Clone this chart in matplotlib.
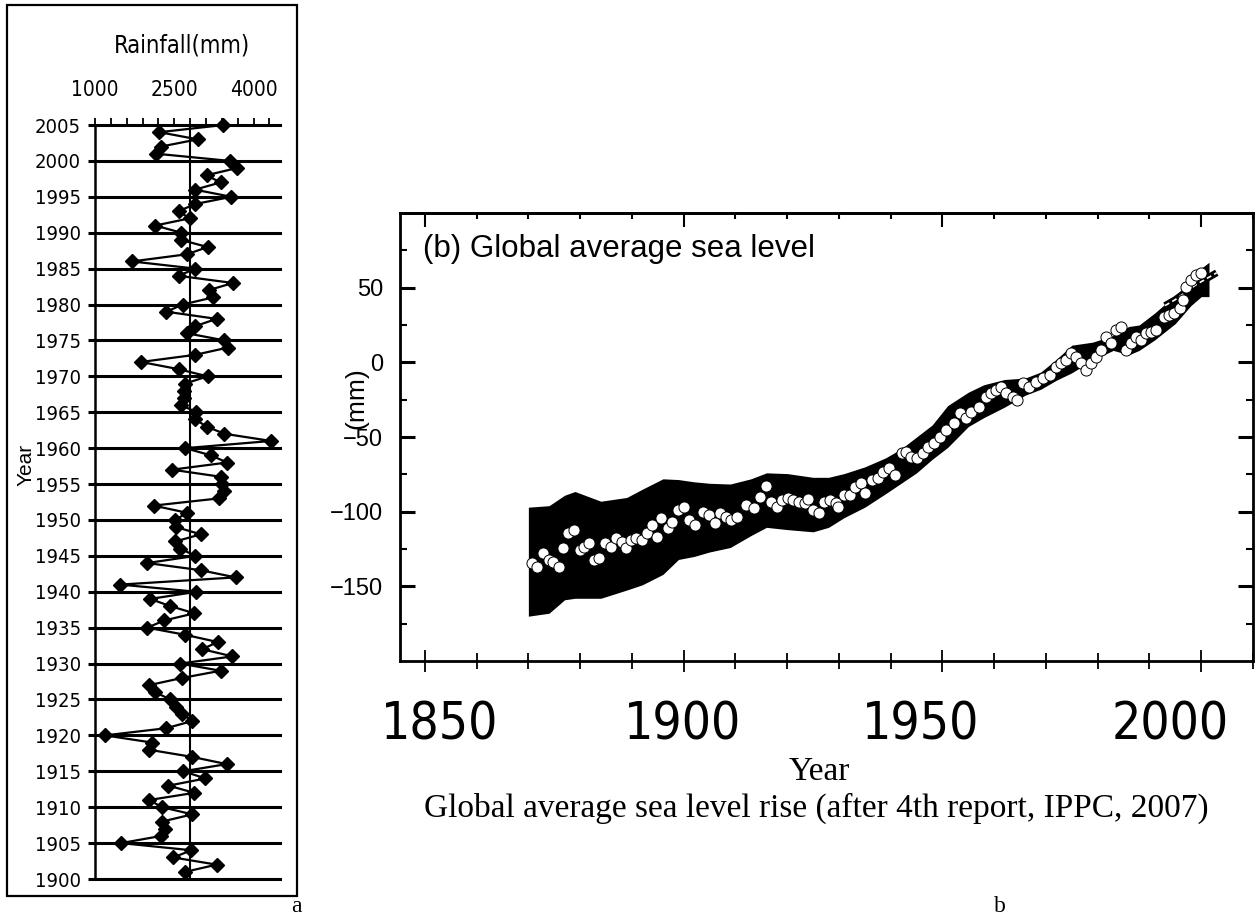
import matplotlib
matplotlib.use('Agg')
import matplotlib.pyplot as plt
import numpy as np
from matplotlib import font_manager as fm
from matplotlib.font_manager import FontProperties
from matplotlib.patches import Rectangle
import matplotlib.transforms as mtransforms

# ---------------- data: panel a (annual rainfall) ----------------
rain_years = list(range(2005, 1900, -1))
rain_mm = [3430, 2220, 2940, 2250, 2160, 3550, 3680, 3110, 3375, 2890,   # 2005-1996
           3580, 2900, 2580, 2790, 2140, 2630, 2630, 3130, 2740, 1700,   # 1995-1986
           2900, 2580, 3610, 3150, 3240, 2660, 2350, 3300, 2900, 2740,   # 1985-1976
           3450, 3510, 2900, 1870, 2580, 3130, 2710, 2690, 2680, 2630,   # 1975-1966
           2920, 2900, 3110, 3450, 4330, 2710, 3190, 3500, 2460, 3390,   # 1965-1956
           3410, 3440, 3340, 2110, 2740, 2520, 2540, 3000, 2520, 2615,   # 1955-1946
           2900, 1990, 3000, 3660, 1475, 2920, 2045, 2425, 2880, 2310,   # 1945-1936
           1990, 2710, 3320, 3030, 3600, 2615, 3375, 2650, 2025, 2140,   # 1935-1926
           2425, 2540, 2650, 2840, 2350, 1190, 2080, 2025, 2840, 3490,   # 1925-1916
           2670, 3090, 2390, 2880, 2025, 2270, 2840, 2270, 2330, 2255,   # 1915-1906
           1495, 2825, 2480, 3300, 2710]                                 # 1905-1901
rain_mean = 2800
year_ticks = list(range(1900, 2006, 5))
year_labels = [str(y) for y in year_ticks]
rain_ticks = [1000, 2500, 4000]
rain_tick_labels = ['1000', '2500', '4000']

# ---------------- data: panel b (global mean sea level) ----------------
band_years = [1870, 1874, 1877, 1879, 1884, 1889, 1892, 1896, 1899, 1902,
              1905, 1909, 1913, 1916, 1920, 1925, 1928, 1931, 1935, 1939,
              1942, 1945, 1948, 1951, 1955, 1958, 1962, 1966, 1969, 1972,
              1975, 1979, 1983, 1986, 1988, 1991, 1995, 1998, 2000, 2001.5]
band_upper = [-97, -96, -89, -86.5, -93, -90.5, -85, -78, -78.5, -80,
              -81, -81.5, -78, -74, -74.5, -77, -77, -74.5, -70, -64,
              -58, -50, -42, -29, -20, -15, -11.5, -10.5, -6.5, 2,
              11.5, 13.5, 18, 24, 25, 33, 45, 54, 63, 67]
band_lower = [-170, -168, -159, -158, -158, -152.5, -149, -142, -132, -130,
              -127, -124, -116, -110.5, -112, -113.5, -110.5, -104, -97, -88,
              -81, -74, -65, -57, -43, -37, -30, -22, -18, -12,
              -7, 1.5, 8, 5, 8, 15, 26, 38, 44, 44]

tg_years = [1870.7, 1871.7, 1872.8, 1873.9, 1874.8, 1875.9, 1876.6, 1877.7, 1878.8, 1879.9,
            1880.7, 1881.8, 1882.6, 1883.7, 1884.8, 1885.9, 1887.0, 1888.1, 1888.8, 1889.9,
            1890.8, 1891.9, 1893.0, 1893.8, 1894.9, 1895.7, 1897.0, 1897.8, 1898.9, 1900.0,
            1901.1, 1902.2, 1903.8, 1904.9, 1906.0, 1907.1, 1908.2, 1909.2, 1910.3, 1912.0,
            1913.6, 1914.7, 1916.0, 1916.9, 1918.0, 1919.0, 1920.1, 1921.2, 1922.3, 1923.4,
            1924.1, 1925.0, 1926.1, 1927.2, 1928.3, 1929.4, 1929.9, 1931.0, 1932.1, 1933.2,
            1934.3, 1935.0, 1936.4, 1937.5, 1938.6, 1939.7, 1940.8, 1942.2, 1943.0, 1944.0,
            1945.1, 1946.2, 1947.3, 1948.4, 1949.5, 1950.6, 1952.2,
            1953.3, 1954.6, 1955.5, 1957.1, 1958.4, 1959.4, 1960.4, 1961.3, 1962.3, 1963.6,
            1964.5, 1965.5, 1966.8, 1968.1, 1969.4, 1970.7, 1971.9, 1972.9, 1973.9, 1974.8,
            1975.8, 1976.8, 1977.7, 1978.7, 1979.7, 1980.6, 1981.6, 1982.6, 1983.5, 1984.5,
            1985.5, 1986.4, 1987.4, 1988.4, 1989.3, 1990.3, 1991.3, 1992.9, 1993.8, 1994.8,
            1995.8, 1996.5, 1997.0, 1998.0, 1998.9, 1999.9]
tg_mm = [-134.6, -136.8, -127.9, -132.4, -133.5, -136.8, -124.5, -114.5, -112.3, -125.7,
         -123.4, -120.7, -132.4, -131.2, -121.2, -123.4, -117.8, -120.0, -124.5, -118.9,
         -117.8, -118.9, -114.5, -108.9, -116.7, -104.4, -111.1, -106.7, -98.9, -97.1,
         -105.6, -108.9, -100.0, -102.2, -107.8, -101.1, -103.3, -105.6, -103.3, -95.5,
         -97.8, -89.9, -82.8, -93.3, -96.6, -92.2, -91.1, -92.2, -93.3, -94.4,
         -91.7, -98.9, -101.1, -93.3, -92.2, -94.4, -96.6, -88.8, -88.8, -83.2,
         -81.0, -87.7, -78.8, -77.7, -73.2, -71.0, -75.4, -60.9, -59.8, -63.2,
         -64.3, -60.9, -56.5, -54.2, -49.8, -45.3, -40.8,
         -34.2, -37.5, -33.1, -29.7, -23.0, -20.8, -18.5, -16.3, -20.8, -23.0,
         -25.3, -14.1, -16.3, -13.0, -10.7, -8.5, -2.9, -0.7, 1.5, 6.0,
         3.8, -0.7, -5.2, -0.7, 3.8, 8.2, 17.1, 12.7, 21.6, 23.8,
         8.2, 12.7, 17.1, 15.0, 19.4, 20.5, 21.6, 30.5, 31.7, 32.8,
         36.2, 42.0, 50.6, 55.1, 58.5, 59.6]
sat_years = [1993, 1995, 1997, 1999, 2001, 2003]
sat_mm = [38, 42, 47, 52, 56, 60]
sl_ticks = [-150, -100, -50, 0, 50]
yr_ticks = [1850, 1900, 1950, 2000]
yr_labels = ['1850', '1900', '1950', '2000']

# ---------------- fonts ----------------
def pick(names):
    for n in names:
        try:
            fm.findfont(FontProperties(family=n), fallback_to_default=False)
            return n
        except Exception:
            continue
    return 'DejaVu Sans'

SANS = pick(['Liberation Sans', 'Arial', 'DejaVu Sans'])
SERIF = pick(['Liberation Serif', 'DejaVu Serif'])


def find_narrow():
    cands = []
    for f in fm.fontManager.ttflist:
        nm = str(f.name)
        st = str(f.stretch).lower()
        style = str(f.style).lower()
        wt = str(f.weight).lower()
        if style != 'normal' or wt not in ('400', 'normal', 'regular', 'book'):
            continue
        if 'Narrow' in nm or 'Condensed' in nm or st in ('condensed', 'semi-condensed'):
            prio = 0 if 'Liberation Sans Narrow' in nm else (1 if 'Sans' in nm else 2)
            cands.append((prio, f.fname))
    if cands:
        cands.sort()
        return FontProperties(fname=cands[0][1])
    return None


NARROW_FP = find_narrow()


def nfont(size_narrow, size_regular):
    if NARROW_FP is not None:
        fp = NARROW_FP.copy()
        fp.set_size(size_narrow)
        return fp
    return FontProperties(family=SANS, size=size_regular)


W, H = 1259, 918
fig = plt.figure(figsize=(W / 100, H / 100), dpi=100)


def fx(x):
    return x / W


def fy(y):
    return 1 - y / H


# ---------------- panel a ----------------
fig.patches.append(Rectangle((fx(7), fy(896)), fx(297) - fx(7), fy(5) - fy(896),
                             transform=fig.transFigure, fill=False, lw=1.6,
                             edgecolor='black'))
ax1 = fig.add_axes([fx(95), fy(879), fx(280) - fx(95), fy(125) - fy(879)])
ax1.set_xlim(1000, 4500)
ax1.set_ylim(1900, 2005)
for yv in year_ticks[:-1]:
    ax1.axhline(yv, color='black', lw=2.2, zorder=1, clip_on=False)
ax1.axvline(rain_mean, color='black', lw=1.5, zorder=2)
ax1.plot(rain_mm, rain_years, '-', color='black', lw=1.6, marker='D', ms=7.5,
         zorder=3, clip_on=False)
for s in ['right', 'bottom']:
    ax1.spines[s].set_visible(False)
ax1.spines['top'].set_linewidth(2.2)
ax1.spines['left'].set_linewidth(1.8)
ax1.set_yticks(year_ticks)
ax1.set_yticklabels(year_labels, fontproperties=nfont(14.5, 13.5))
ax1.tick_params(axis='y', direction='out', length=5, width=2.2, pad=5)
ax1.xaxis.tick_top()
ax1.set_xticks(rain_ticks)
ax1.set_xticks(np.arange(1000, 4501, 300), minor=True)
ax1.set_xticklabels(rain_tick_labels, fontproperties=nfont(15, 14))
ax1.tick_params(axis='x', which='both', direction='out', length=5, width=1.3,
                pad=13, top=True, bottom=False)
fig.text(fx(182), fy(45), 'Rainfall(mm)', fontproperties=nfont(17, 15.5),
         ha='center', va='center')
fig.text(fx(26), fy(465), 'Year', fontsize=15, family=SANS, rotation=90,
         ha='center', va='center')
fig.text(fx(296), fy(906), 'a', fontsize=17, family=SERIF, ha='center', va='center')

# ---------------- panel b ----------------
ax2 = fig.add_axes([fx(400), fy(661), fx(1253) - fx(400), fy(213) - fy(661)])
ax2.set_xlim(1845.2, 2010)
ax2.set_ylim(-200, 100)
ax2.fill_between(band_years, band_lower, band_upper, color='black', lw=0, zorder=2)
ax2.plot(sat_years, sat_mm, '-', color='black', lw=5, zorder=3, solid_capstyle='butt')
ax2.plot(sat_years, sat_mm, '--', color='white', lw=1.2, dashes=(3, 2), zorder=4)
ax2.plot(tg_years, tg_mm, 'o', mfc='white', mec='black', ms=8, mew=0.7, zorder=5)
for s in ax2.spines.values():
    s.set_linewidth(2.0)
ax2.set_yticks(sl_ticks)
ax2.set_yticks(np.arange(-175, 100, 25), minor=True)
ax2.set_yticklabels([f'{v}'.replace('-', '\u2212') for v in sl_ticks],
                    fontsize=17, family=SANS)
ax2.tick_params(axis='y', which='major', direction='in', length=11, width=2.2,
                left=True, right=True, pad=12)
ax2.tick_params(axis='y', which='minor', direction='in', length=5, width=1.5,
                left=True, right=True)
ax2.set_xticks(yr_ticks)
ax2.set_xticks(np.arange(1850, 2011, 10), minor=True)
ax2.set_xticklabels([])
ax2.tick_params(axis='x', which='major', direction='inout', length=16, width=1.3,
                bottom=True, top=False)
ax2.tick_params(axis='x', which='minor', direction='inout', length=11, width=1.3,
                bottom=True, top=False)
top = ax2.secondary_xaxis('top')
top.set_xticks(yr_ticks)
top.set_xticks(np.arange(1850, 2011, 10), minor=True)
top.set_xticklabels([])
top.tick_params(axis='x', which='major', direction='in', length=10, width=1.5)
top.tick_params(axis='x', which='minor', direction='in', length=4, width=1.5)
top.spines['top'].set_linewidth(2.0)

# big year labels (placed like the original, slightly offset from the ticks)
label_pos = [1852.9, 1899.8, 1945.8, 1994.0]
trans = mtransforms.blended_transform_factory(ax2.transData, fig.transFigure)
for xp, lab in zip(label_pos, yr_labels):
    ax2.text(xp, fy(725), lab, transform=trans, fontproperties=nfont(37, 36),
             ha='center', va='center', clip_on=False)

ax2.text(0.027, 0.92, '(b) Global average sea level', transform=ax2.transAxes,
         fontsize=22.5, family=SANS, ha='left', va='center')
fig.text(fx(356), fy(398), '(mm)', fontsize=19, family=SANS, rotation=90,
         ha='center', va='center')
fig.text(fx(819), fy(772), 'Year', fontsize=24, family=SERIF, ha='center', va='center')
fig.text(fx(816), fy(808), 'Global average sea level rise (after 4th report, IPPC, 2007)',
         fontsize=24, family=SERIF, ha='center', va='center')
fig.text(fx(1000), fy(906), 'b', fontsize=17, family=SERIF, ha='center', va='center')

fig.savefig('out.png', dpi=100)
